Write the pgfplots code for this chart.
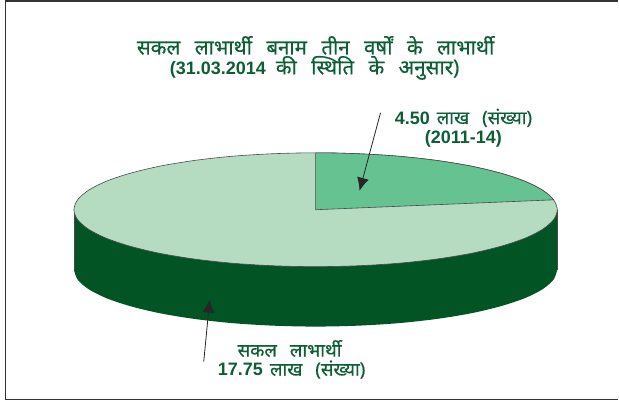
\documentclass[border=0pt]{standalone}
\usepackage{fontspec}
\setmainfont{Liberation Sans}
\newfontfamily\devfont[Script=Devanagari,WordSpace=2.7,FakeBold=0.5]{Noto Sans}
\usepackage{pgfplots}
\pgfplotsset{compat=1.18}
\usetikzlibrary{arrows.meta}
\definecolor{txtgreen}{HTML}{0B5E36}
\definecolor{topcol}{HTML}{B5DBC1}
\definecolor{wedgecol}{HTML}{66C291}
\definecolor{sidecol}{HTML}{025425}
\definecolor{edgecol}{HTML}{4A4A4A}
\definecolor{framecol}{HTML}{333333}
\begin{document}
\begin{tikzpicture}
\begin{axis}[
    scale only axis, width=619pt, height=403pt,
    xmin=0, xmax=619, ymin=0, ymax=403, y dir=reverse,
    hide axis, clip=false
]
% keeps the page at the full size, hide axis would crop to the frame
\path (axis cs:0,0) rectangle (axis cs:619,403);
% frame, open on the right
\addplot[framecol, line width=1.6pt, forget plot] coordinates {(5.5,400)(5.5,1)};
\addplot[framecol, line width=1.6pt, forget plot] coordinates {(5,1)(619,1)};
\addplot[framecol, line width=1.6pt, forget plot] coordinates {(5,400)(619,400)};
% side wall
\addplot[sidecol, fill=sidecol, draw=none, forget plot] coordinates {(74,210)(74,270)(558,270)(558,210)} -- cycle;
\addplot[sidecol, fill=sidecol, draw=none, smooth, forget plot] coordinates {
 (558,270)(554.3,279.9)(543.4,289.5)(525.6,298.5)(501.4,306.6)(471.6,313.7)(437,319.4)(398.8,323.6)(358,326.1)(316,327)
 (274,326.1)(233.2,323.6)(195,319.4)(160.4,313.7)(130.6,306.6)(106.4,298.5)(88.6,289.5)(77.7,279.9)(74,270)
} -- cycle;
\addplot[edgecol, line width=0.6pt, forget plot] coordinates {(74,210)(74,270)};
\addplot[edgecol, line width=0.6pt, forget plot] coordinates {(558,210)(558,270)};
% top ellipse
\addplot[edgecol, line width=0.6pt, fill=topcol, smooth cycle, forget plot] coordinates {
 (558,210)(554.3,200.1)(543.4,190.5)(525.6,181.5)(501.4,173.4)(471.6,166.3)(437,160.6)(398.8,156.4)(358,153.9)(316,153)
 (274,153.9)(233.2,156.4)(195,160.6)(160.4,166.3)(130.6,173.4)(106.4,181.5)(88.6,190.5)(77.7,200.1)(74,210)
 (77.7,219.9)(88.6,229.5)(106.4,238.5)(130.6,246.6)(160.4,253.7)(195,259.4)(233.2,263.6)(274,266.1)(316,267)
 (358,266.1)(398.8,263.6)(437,259.4)(471.6,253.7)(501.4,246.6)(525.6,238.5)(543.4,229.5)(554.3,219.9)
};
% wedge 4.50 of 22.25
\addplot[edgecol, line width=0.6pt, fill=wedgecol, forget plot] coordinates {
 (316,210)(316,153)(337.1,153.2)(358,153.9)(378.6,154.9)(398.8,156.4)(418.3,158.3)(437,160.6)(454.8,163.3)(471.6,166.3)
 (487.1,169.7)(501.4,173.4)(514.2,177.3)(525.6,181.5)(535.3,185.9)(543.4,190.5)(549.8,195.2)(554.3,200.1)
} -- cycle;
% arrows
\addplot[black!85, line width=0.8pt, -{Latex[length=13pt,width=12pt]}, forget plot] coordinates {(381,113)(360,191)};
\addplot[black!85, line width=0.8pt, -{Latex[length=13pt,width=12pt]}, forget plot] coordinates {(204,362)(210,300)};
% texts
\node[txtgreen, font=\fontsize{20.5}{24}\selectfont\devfont] at (axis cs:316,45.5) {सकल लाभार्थी बनाम तीन वर्षों के लाभार्थी};
\node[txtgreen, font=\fontsize{18}{22}\selectfont] at (axis cs:315,68) {\textbf{(31.03.2014}\hspace{10pt}{\fontsize{20.5}{22}\selectfont\devfont की स्थिति के अनुसार)}};
\node[txtgreen, font=\fontsize{18}{22}\selectfont] at (axis cs:464,118) {\textbf{4.50}\hspace{2pt} {\fontsize{18.5}{22}\selectfont\devfont लाख (संख्या)}};
\node[txtgreen, font=\fontsize{18}{22}\selectfont\bfseries] at (axis cs:464,139) {(2011-14)};
\node[txtgreen, font=\fontsize{18.5}{22}\selectfont\devfont] at (axis cs:290,349) {सकल लाभार्थी};
\node[txtgreen, font=\fontsize{18}{22}\selectfont] at (axis cs:292,370) {\textbf{17.75}\hspace{2pt} {\fontsize{18.5}{22}\selectfont\devfont लाख (संख्या)}};
\end{axis}
\end{tikzpicture}
\end{document}
